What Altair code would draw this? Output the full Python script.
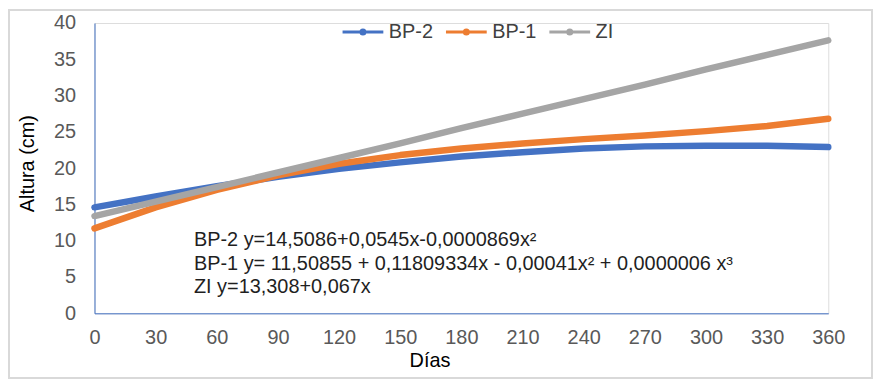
import altair as alt
import pandas as pd

days = [0, 30, 60, 90, 120, 150, 180, 210, 240, 270, 300, 330, 360]
bp2 = [14.6, 16.1, 17.5, 18.8, 19.9, 20.8, 21.6, 22.2, 22.7, 23.0, 23.1, 23.1, 22.9]
bp1 = [11.7, 14.6, 17.0, 19.0, 20.6, 21.8, 22.7, 23.4, 24.0, 24.5, 25.1, 25.8, 26.8]
zi = [13.4, 15.4, 17.4, 19.4, 21.4, 23.4, 25.5, 27.5, 29.5, 31.5, 33.6, 35.6, 37.6]
series = ["BP-2", "BP-1", "ZI"]
colors = ["#4472C4", "#ED7D31", "#A5A5A5"]
x_ticks = list(range(0, 361, 30))
y_ticks = list(range(0, 41, 5))
annotation = ("BP-2 y=14,5086+0,0545x-0,0000869x²\n"
              "BP-1 y= 11,50855 + 0,11809334x - 0,00041x² + 0,0000006 x³\n"
              "ZI y=13,308+0,067x")

rows = []
for name, vals in zip(series, [bp2, bp1, zi]):
    for d, v in zip(days, vals):
        rows.append({"Días": d, "Altura": v, "Serie": name})
df = pd.DataFrame(rows)

FONT = "Liberation Sans"

xenc = alt.X("Días:Q", title="Días",
             scale=alt.Scale(domain=[0, 360], nice=False),
             axis=alt.Axis(values=x_ticks, labelFontSize=20, labelColor="#595959",
                           labelPadding=14, ticks=False, grid=False, labelFlush=False,
                           labelOverlap=False,
                           domainColor="#4472C4", titleFontSize=20, titleColor="#000000",
                           titleFontWeight="normal", titleX=337, titleY=37,
                           titleBaseline="top", labelFont=FONT, titleFont=FONT))
yenc = alt.Y("Altura:Q", title="Altura (cm)",
             scale=alt.Scale(domain=[0, 40], nice=False),
             axis=alt.Axis(values=y_ticks, labelFontSize=20, labelColor="#595959",
                           labelPadding=19, ticks=False, grid=False, labelFlush=False,
                           domainColor="#4472C4", titleFontSize=20, titleColor="#000000",
                           titleFontWeight="normal", titlePadding=16, titleY=141,
                           labelFont=FONT, titleFont=FONT))
cenc = alt.Color("Serie:N", scale=alt.Scale(domain=series, range=colors),
                 legend=alt.Legend(title=None, orient="none", direction="horizontal",
                                   legendX=248, legendY=-13,
                                   symbolType="M-1,0L1,0M-0.1,0A0.1,0.1,0,1,0,0.1,0A0.1,0.1,0,1,0,-0.1,0",
                                   symbolSize=1681, symbolStrokeWidth=3,
                                   labelFontSize=20, labelColor="#404040",
                                   labelFont=FONT, labelOffset=4, columnPadding=6))

layers = []
for name in series:
    layers.append(
        alt.Chart(df).transform_filter(alt.datum.Serie == name)
        .mark_line(strokeWidth=6.5, strokeCap="round", strokeJoin="round")
        .encode(x=xenc, y=yenc, color=cenc)
    )

text = alt.Chart(pd.DataFrame({"t": [annotation]})).mark_text(
    align="left", baseline="top", lineBreak="\n", lineHeight=24,
    fontSize=20, font=FONT, color="#1f1f1f"
).encode(text="t:N", x=alt.value(100), y=alt.value(208))

border = alt.Chart(pd.DataFrame({"b": [0]})).mark_rect(
    filled=False, stroke="#d9d9d9", strokeWidth=2
).encode(x=alt.value(-86), x2=alt.value(782), y=alt.value(-13), y2=alt.value(357))

chart = alt.layer(border, *layers, text).properties(
    width=738, height=292,
    autosize=alt.AutoSizeParams(type="none"),
    padding={"left": 87, "top": 14, "right": 45, "bottom": 66},
).configure_view(stroke=None).configure(font=FONT)

chart.save("out.html", embed_options={"renderer": "svg", "actions": False})
